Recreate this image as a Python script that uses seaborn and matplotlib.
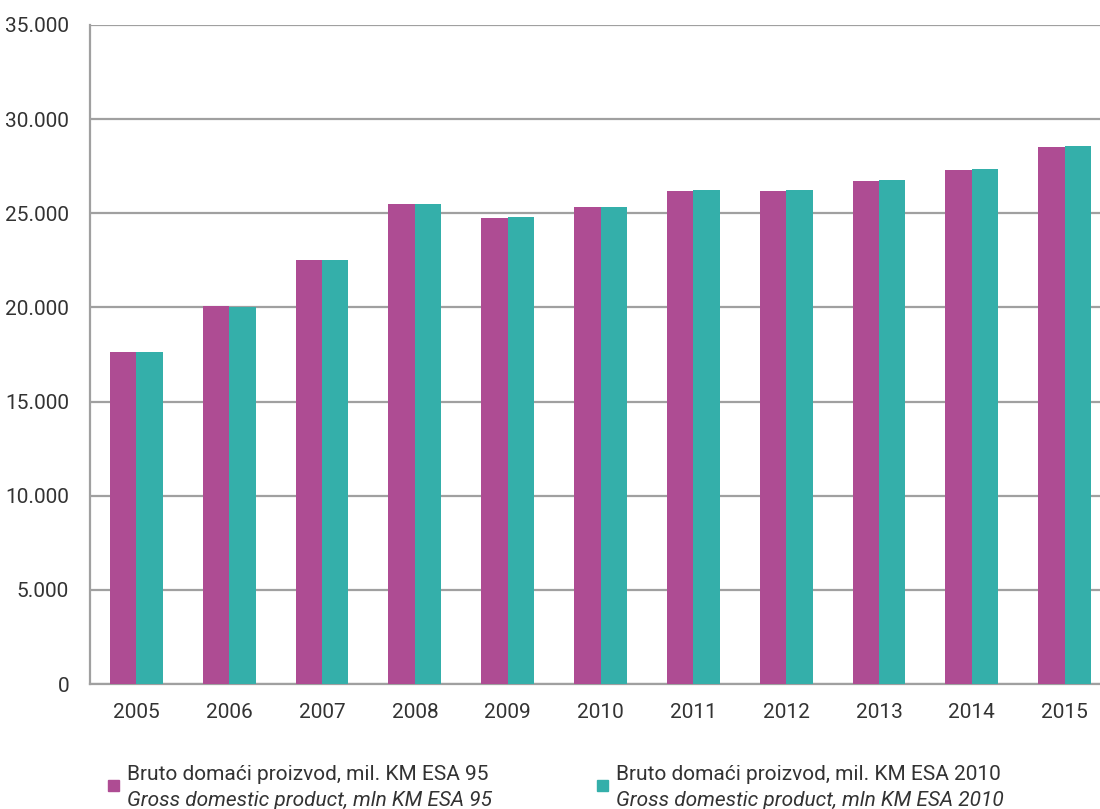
import matplotlib
matplotlib.use("Agg")
import matplotlib.pyplot as plt
import seaborn as sns
import pandas as pd
from matplotlib.ticker import FuncFormatter
from matplotlib.patches import Rectangle

years = ["2005", "2006", "2007", "2008", "2009", "2010", "2011", "2012", "2013", "2014", "2015"]
esa95 = [17650, 20080, 22540, 25490, 24770, 25340, 26200, 26180, 26730, 27300, 28510]
esa2010 = [17640, 20040, 22540, 25500, 24790, 25360, 26240, 26220, 26770, 27350, 28580]
series = ["ESA 95", "ESA 2010"]
label_bs = ["Bruto domaći proizvod, mil. KM ESA 95", "Bruto domaći proizvod, mil. KM ESA 2010"]
label_en = ["Gross domestic product, mln KM ESA 95", "Gross domestic product, mln KM ESA 2010"]
colors = ["#AE4C93", "#34AFAA"]

df = pd.DataFrame({
    "year": years * 2,
    "value": esa95 + esa2010,
    "series": [series[0]] * len(years) + [series[1]] * len(years),
})

sns.set_theme(style="white")
plt.rcParams["font.family"] = ["Roboto", "DejaVu Sans"]

fig = plt.figure(figsize=(11, 8.09), dpi=100)
ax = fig.add_axes([90 / 1100, 1 - 684 / 809, 1021 / 1100, (684 - 25) / 809])

sns.barplot(data=df, x="year", y="value", hue="series", palette=colors,
            width=0.57, linewidth=0, saturation=1, ax=ax, legend=False, zorder=3)

ax.set_ylim(0, 35000)
ax.set_xlim(-0.5, len(years) - 0.5)
ax.set_yticks(range(0, 35001, 5000))
ax.yaxis.set_major_formatter(FuncFormatter(lambda v, p: f"{int(v):,}".replace(",", ".")))
ax.set_xlabel("")
ax.set_ylabel("")

grid_c = "#A0A0A0"
txt_c = "#333333"
fs = 15
ax.yaxis.grid(True, color=grid_c, linewidth=1.6, zorder=0)
ax.set_axisbelow(True)
for s in ["top", "right"]:
    ax.spines[s].set_visible(False)
for s in ["left", "bottom"]:
    ax.spines[s].set_color(grid_c)
    ax.spines[s].set_linewidth(1.6)

ax.set_xticks([i for i in range(len(years))])
ax.set_xticks([i - 0.5 for i in range(len(years) + 1)], minor=True)
ax.tick_params(axis="x", which="major", length=0, pad=14, labelsize=fs, labelcolor=txt_c)
ax.tick_params(axis="x", which="minor", length=6, width=1.6, color=grid_c, direction="out")
ax.tick_params(axis="y", which="major", length=7, width=1.6, color=grid_c, direction="out",
               pad=8, labelsize=fs, labelcolor=txt_c)

# legend
lx = [108, 597]
for i in range(2):
    fig.patches.append(Rectangle((lx[i] / 1100, 1 - 791 / 809), 11 / 1100, 11 / 809,
                                 transform=fig.transFigure, color=colors[i], zorder=5))
    fig.text((lx[i] + 19) / 1100, 1 - 775 / 809, label_bs[i], fontsize=fs, color=txt_c,
             va="center", ha="left")
    fig.text((lx[i] + 19) / 1100, 1 - 800 / 809, label_en[i], fontsize=fs, color=txt_c,
             style="italic", va="center", ha="left")

fig.savefig("out.png", dpi=100)
